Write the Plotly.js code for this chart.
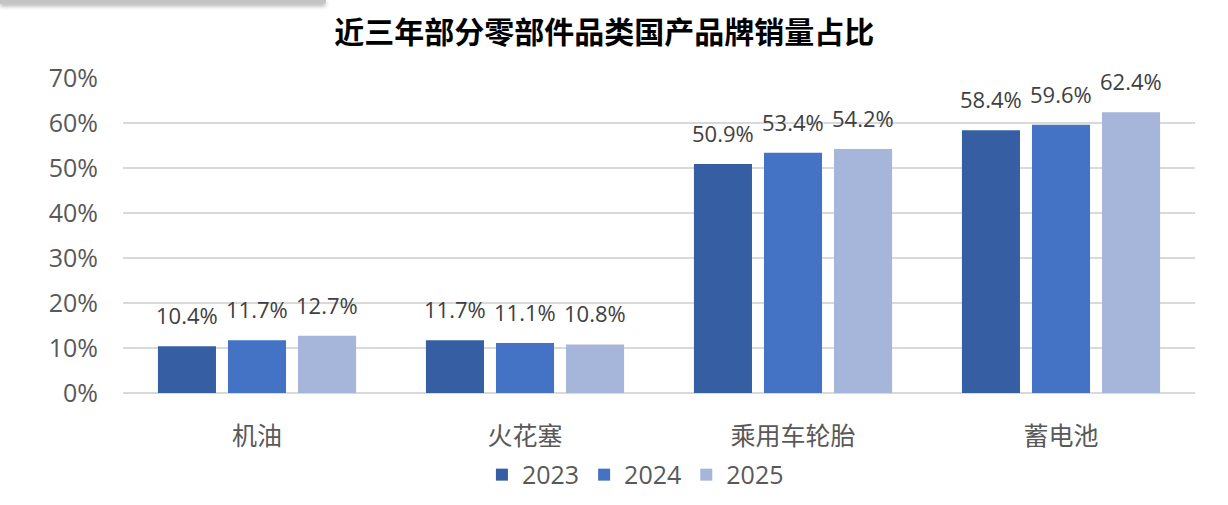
<!DOCTYPE html>
<html>
<head>
<meta charset="utf-8">
<script src="https://cdn.plot.ly/plotly-3.0.1.min.js"></script>
<style>
  html, body { margin: 0; padding: 0; background: #ffffff; }
  #chart { width: 1228px; height: 505px; position: relative; }
  .topbar {
    position: absolute; left: 0; top: 0; width: 326px; height: 4px;
    background: #c4c4c4; box-shadow: 0 2px 4px rgba(0,0,0,0.35);
    border-bottom-right-radius: 3px; z-index: 5;
  }
</style>
</head>
<body>
<div class="topbar"></div>
<div id="chart"></div>
<script>
// Share of domestic brands in sales, by part category and year
const categories = ['机油', '火花塞', '乘用车轮胎', '蓄电池'];
const years = ['2023', '2024', '2025'];
const values2023 = [10.4, 11.7, 50.9, 58.4];
const values2024 = [11.7, 11.1, 53.4, 59.6];
const values2025 = [12.7, 10.8, 54.2, 62.4];
const colors = ['#365FA3', '#4472C4', '#A6B5DA'];

const font = '"Open Sans", "Noto Sans CJK SC", sans-serif';
const cjkFont = '"Noto Sans CJK SC", "Noto Sans", sans-serif';
const seriesValues = [values2023, values2024, values2025];

const traces = seriesValues.map((vals, i) => ({
  type: 'bar',
  name: years[i],
  x: categories,
  y: vals,
  marker: { color: colors[i] },
  hoverinfo: 'skip'
}));

// value labels above each bar
const slotOffsets = [-70, 0, 70];
const annotations = [];
seriesValues.forEach((vals, i) => {
  vals.forEach((v, j) => {
    annotations.push({
      x: categories[j], y: v, xref: 'x', yref: 'y',
      text: v.toFixed(1) + '%',
      showarrow: false,
      xanchor: 'center', yanchor: 'bottom',
      xshift: slotOffsets[i], yshift: 14,
      font: { family: font, size: 22, color: '#404040' }
    });
  });
});

const layout = {
  width: 1228, height: 505,
  margin: { l: 123, r: 33, t: 78, b: 112, autoexpand: false },
  paper_bgcolor: '#ffffff', plot_bgcolor: '#ffffff',
  title: {
    text: '<b>近三年部分零部件品类国产品牌销量占比</b>',
    font: { family: cjkFont, size: 30, color: '#000000' },
    x: 0.492, xanchor: 'center', y: 0.935, yanchor: 'middle'
  },
  barmode: 'group',
  bargap: 0.216,
  bargroupgap: 0.171,
  xaxis: {
    type: 'category', automargin: false,
    showgrid: false, zeroline: false, showline: false,
    ticks: '', ticklabelstandoff: 26,
    tickfont: { family: cjkFont, size: 25, color: '#595959' }
  },
  yaxis: {
    range: [0, 70], dtick: 10, ticksuffix: '%', automargin: false,
    showgrid: true, gridcolor: '#D9D9D9', gridwidth: 1.5,
    zeroline: true, zerolinecolor: '#D9D9D9', zerolinewidth: 1.5,
    showline: false, ticks: '', ticklabelstandoff: 24,
    tickfont: { family: font, size: 25, color: '#595959' }
  },
  showlegend: true,
  legend: {
    orientation: 'h', x: 0.478, xanchor: 'center', y: -0.26, yanchor: 'middle',
    font: { family: font, size: 25, color: '#595959' },
    itemwidth: 30, traceorder: 'normal'
  },
  annotations: annotations
};

Plotly.newPlot('chart', traces, layout, { displayModeBar: false, staticPlot: true });
</script>
</body>
</html>
